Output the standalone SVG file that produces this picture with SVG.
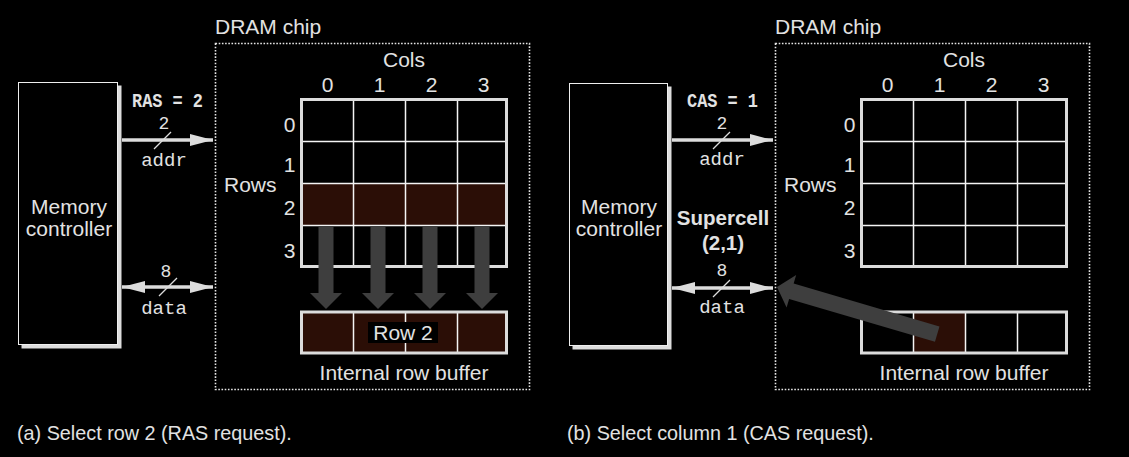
<svg xmlns="http://www.w3.org/2000/svg" xmlns:xlink="http://www.w3.org/1999/xlink" width="1129" height="457" viewBox="0 0 1129 457">
<style>
  .t { font-family: "Liberation Sans", Arial, sans-serif; font-size: 21px; fill: #e2e2e2; }
  .tb { font-family: "Liberation Sans", Arial, sans-serif; font-size: 20.5px; font-weight: bold; fill: #e2e2e2; }
  .m { font-family: "Liberation Mono", "Courier New", monospace; font-size: 19px; fill: #e2e2e2; }
  .d { font-family: "Liberation Mono", "Courier New", monospace; font-size: 18px; fill: #e2e2e2; }
  .mb { font-family: "Liberation Mono", "Courier New", monospace; font-size: 20px; font-weight: bold; fill: #e2e2e2; }
  .cap { font-family: "Liberation Sans", Arial, sans-serif; font-size: 19.8px; fill: #e2e2e2; }
  .shadow { fill: #dcdcdc; }
  .box { fill: #000; stroke: #eeeeee; stroke-width: 1; }
  .chip { fill: none; stroke: #e6e6e6; stroke-width: 1.6; stroke-dasharray: 1.6 1.6; }
  .outer { fill: none; stroke: #dcdcdc; stroke-width: 3; }
  .inner { stroke: #f4f4f4; stroke-width: 1.5; fill: none; }
  .sel { fill: #2b0e06; }
  .bus { stroke: #dcdcdc; stroke-width: 3.5; fill: none; }
  .slash { stroke: #dcdcdc; stroke-width: 1.3; }
  .big { fill: #3e3e3e; }
</style>
<defs>
  <marker id="ah" markerUnits="userSpaceOnUse" markerWidth="23" markerHeight="12" refX="23" refY="6" orient="auto-start-reverse">
    <path d="M0,0 L23,6 L0,12 z" fill="#dcdcdc"/>
  </marker>
  <path id="down" d="M-7.5,227 L7.5,227 L7.5,293 L16,293 L0,309 L-16,293 L-7.5,293 z"/>
</defs>
<rect width="1129" height="457" fill="#000"/>

<!-- Panel (a) -->
<g id="mc-a">
  <rect class="shadow" x="21.5" y="85.5" width="100" height="263"/>
  <rect class="box" x="18.5" y="82.5" width="99" height="262"/>
  <text class="t" x="69" y="214" text-anchor="middle">Memory</text>
  <text class="t" x="69" y="236" text-anchor="middle">controller</text>
</g>
<g id="dram-a">
  <text class="t" x="215" y="34">DRAM chip</text>
  <rect class="chip" x="215.5" y="43.5" width="314" height="346"/>
  <text class="t" x="404" y="67" text-anchor="middle">Cols</text>
  <text class="t" x="327.5" y="92" text-anchor="middle">0</text>
  <text class="t" x="379.5" y="92" text-anchor="middle">1</text>
  <text class="t" x="431.5" y="92" text-anchor="middle">2</text>
  <text class="t" x="483.5" y="92" text-anchor="middle">3</text>
  <text class="t" x="224" y="192">Rows</text>
  <text class="t" x="295.5" y="132" text-anchor="end">0</text>
  <text class="t" x="295.5" y="172" text-anchor="end">1</text>
  <text class="t" x="295.5" y="215" text-anchor="end">2</text>
  <text class="t" x="295.5" y="258" text-anchor="end">3</text>
  <rect class="sel" x="301.5" y="183.5" width="205" height="42"/>
  <path class="inner" d="M353.5,99.5 V267 M405.5,99.5 V267 M457.5,99.5 V267 M301.5,141.5 H506.5 M301.5,183.5 H506.5 M301.5,225.5 H506.5"/>
  <rect class="outer" x="301.5" y="99.5" width="205" height="167"/>
  <rect class="sel" x="301.5" y="312" width="205" height="41"/>
  <path class="inner" d="M353.5,312 V353 M405.5,312 V353 M457.5,312 V353"/>
  <rect class="outer" x="301.5" y="312" width="205" height="41"/>
  <rect x="368" y="322" width="70" height="21" fill="#000"/>
  <text class="t" x="403" y="340" text-anchor="middle">Row 2</text>
  <text class="t" x="404" y="380" text-anchor="middle">Internal row buffer</text>
  <g class="big">
    <use xlink:href="#down" href="#down" x="326"/>
    <use xlink:href="#down" href="#down" x="378"/>
    <use xlink:href="#down" href="#down" x="430"/>
    <use xlink:href="#down" href="#down" x="482"/>
  </g>
</g>

<!-- Panel (b) -->
<g id="mc-b">
  <rect class="shadow" x="572.5" y="86.5" width="99" height="263"/>
  <rect class="box" x="569.5" y="83.5" width="98" height="262"/>
  <text class="t" x="619" y="214" text-anchor="middle">Memory</text>
  <text class="t" x="619" y="236" text-anchor="middle">controller</text>
</g>
<g id="dram-b">
  <text class="t" x="775" y="34">DRAM chip</text>
  <rect class="chip" x="775.5" y="43.5" width="314" height="346"/>
  <text class="t" x="964" y="67" text-anchor="middle">Cols</text>
  <text class="t" x="887.5" y="92" text-anchor="middle">0</text>
  <text class="t" x="939.5" y="92" text-anchor="middle">1</text>
  <text class="t" x="991.5" y="92" text-anchor="middle">2</text>
  <text class="t" x="1043.5" y="92" text-anchor="middle">3</text>
  <text class="t" x="784" y="192">Rows</text>
  <text class="t" x="855.5" y="132" text-anchor="end">0</text>
  <text class="t" x="855.5" y="172" text-anchor="end">1</text>
  <text class="t" x="855.5" y="215" text-anchor="end">2</text>
  <text class="t" x="855.5" y="258" text-anchor="end">3</text>
  <path class="inner" d="M913.5,99.5 V267 M965.5,99.5 V267 M1017.5,99.5 V267 M861.5,141.5 H1066.5 M861.5,183.5 H1066.5 M861.5,225.5 H1066.5"/>
  <rect class="outer" x="861.5" y="99.5" width="205" height="167"/>
  <rect class="sel" x="913.5" y="312" width="52" height="41"/>
  <path class="inner" d="M913.5,312 V353 M965.5,312 V353 M1017.5,312 V353"/>
  <rect class="outer" x="861.5" y="312" width="205" height="41"/>
  <text class="t" x="964" y="380" text-anchor="middle">Internal row buffer</text>
  <polygon class="big" transform="translate(777,287) rotate(16.37)" points="0,0 15,-17 15,-8 167,-8 167,8 15,8 15,17"/>
</g>

<g id="connectors">
  <line class="bus" x1="122" y1="140" x2="213" y2="140" marker-end="url(#ah)"/>
  <line class="bus" x1="122" y1="287" x2="213" y2="287" marker-start="url(#ah)" marker-end="url(#ah)"/>
  <line class="slash" x1="154" y1="149" x2="171" y2="132"/>
  <line class="slash" x1="159" y1="296" x2="177" y2="278"/>
  <text class="mb" x="167.5" y="107" text-anchor="middle" textLength="71" lengthAdjust="spacingAndGlyphs">RAS = 2</text>
  <text class="d" x="164" y="129" text-anchor="middle">2</text>
  <text class="m" x="164" y="166" text-anchor="middle">addr</text>
  <text class="d" x="166" y="277" text-anchor="middle">8</text>
  <text class="m" x="164" y="314" text-anchor="middle">data</text>

  <line class="bus" x1="672" y1="140" x2="773" y2="140" marker-end="url(#ah)"/>
  <line class="bus" x1="672" y1="288" x2="773" y2="288" marker-start="url(#ah)" marker-end="url(#ah)"/>
  <line class="slash" x1="713" y1="149" x2="730" y2="132"/>
  <line class="slash" x1="713" y1="297" x2="730" y2="280"/>
  <text class="mb" x="722.5" y="107" text-anchor="middle" textLength="71" lengthAdjust="spacingAndGlyphs">CAS = 1</text>
  <text class="d" x="722" y="129" text-anchor="middle">2</text>
  <text class="m" x="722" y="165" text-anchor="middle">addr</text>
  <text class="d" x="722" y="276" text-anchor="middle">8</text>
  <text class="m" x="722" y="313" text-anchor="middle">data</text>
  <text class="tb" x="723" y="225" text-anchor="middle">Supercell</text>
  <text class="tb" x="723" y="250" text-anchor="middle">(2,1)</text>
</g>

<text class="cap" x="17" y="440">(a) Select row 2 (RAS request).</text>
<text class="cap" x="567" y="440">(b) Select column 1 (CAS request).</text>
</svg>
